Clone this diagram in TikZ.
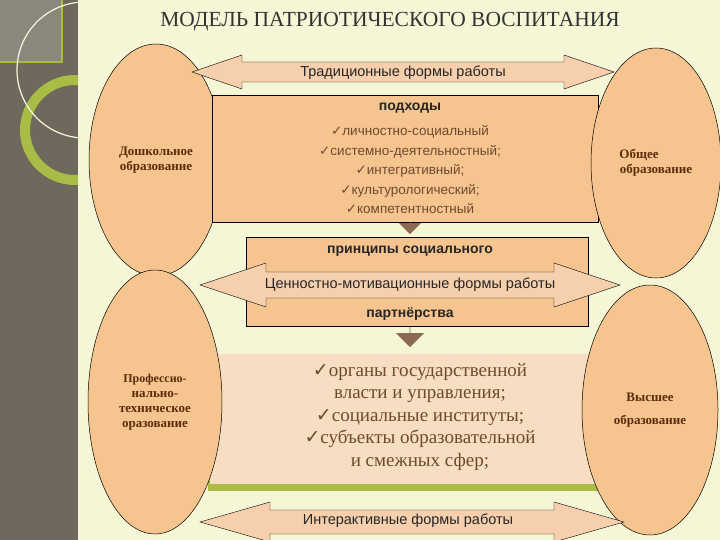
\documentclass[tikz,border=0pt]{standalone}
\usepackage{fontspec}
\setmainfont{Liberation Serif}
\setsansfont{Liberation Sans}
\newfontfamily\djfont{DejaVu Sans}
\usetikzlibrary{shapes.arrows,shapes.geometric}
\definecolor{bg}{HTML}{F4F6D6}
\definecolor{strip}{HTML}{6E695C}
\definecolor{peach}{HTML}{F6C58F}
\definecolor{lpeach}{HTML}{F6CFAC}
\definecolor{pale}{HTML}{F7DDC2}
\definecolor{ring}{HTML}{A9BC45}
\definecolor{dbrown}{HTML}{5A2C0A}
\definecolor{gbrown}{HTML}{6E4A30}
\definecolor{ar}{HTML}{8A6A50}
\newcommand{\ck}{{\djfont\char"2713}}
% #1 x1, #2 x2, #3 yc, #4 shaft half, #5 head half, #6 head length
\newcommand{\dblarr}[6]{\filldraw[dblarrow] (#1,#3) -- (#1+#6,#3-#5) -- (#1+#6,#3-#4) -- (#2-#6,#3-#4) -- (#2-#6,#3-#5) -- (#2,#3) -- (#2-#6,#3+#5) -- (#2-#6,#3+#4) -- (#1+#6,#3+#4) -- (#1+#6,#3+#5) -- cycle;}
\tikzset{
 ell/.style={ellipse,draw=black,line width=0.5pt,fill=peach,text=dbrown,font=\bfseries\fontsize{13}{15}\selectfont,align=center,inner sep=0pt},
 box/.style={draw=black,line width=0.4pt,fill=peach},
 dblarrow/.style={draw=black,line width=0.4pt,fill=lpeach},
 lbl/.style={font=\sffamily\fontsize{14.5}{16}\selectfont,text=black!85},
 ttl/.style={font=\sffamily\bfseries\fontsize{14}{16}\selectfont,text=black!85},
}
\begin{document}
\begin{tikzpicture}[x=1pt,y=-1pt]
\fill[bg] (0,0) rectangle (720,540);
\useasboundingbox (0,0) rectangle (720,540);
% left decoration
\fill[strip] (0,0) rectangle (78,540);
\fill[strip!80!white] (0,0) rectangle (62,62);
\draw[ring,line width=2pt] (0,62) -- (62,62) -- (62,0);
\begin{scope}
\clip (0,0) rectangle (78,540);
\draw[ring,line width=10pt] (75,130) circle (50);
\draw[bg!90!white,line width=1.2pt] (85,70) circle (68);
\end{scope}
% title
\node (title) at (390,22) {\fontsize{21.5}{24}\selectfont\color{black!80}МОДЕЛЬ ПАТРИОТИЧЕСКОГО ВОСПИТАНИЯ};
\node[ell,minimum width=134,minimum height=232] (e1) at (156,160) {Дошкольное\\образование};
% boxes
\node[box,minimum width=386,minimum height=127,anchor=north west] (b1) at (212,95) {};
\node[ttl] (t1) at (410,108) {подходы};
\node[font=\sffamily\fontsize{13.5}{19.5}\selectfont,text=gbrown,align=center] (l1) at (410,170) {\ck личностно-социальный\\ \ck системно-деятельностный;\\ \ck интегративный;\\ \ck культурологический;\\ \ck компетентностный};
\node[box,minimum width=342,minimum height=89,anchor=north west] (b2) at (246,237) {};
\node[ttl] (t2) at (410,251) {принципы социального};
\node[ttl] (t3) at (410,314) {партнёрства};
\fill[ring] (208,358) rectangle (612,491);
\node[fill=pale,minimum width=396,minimum height=130,anchor=north west,inner sep=0] (b3) at (210,354) {};
\node[font=\fontsize{19}{22.5}\selectfont,text=gbrown,align=center] (l3) at (420,417) {\ck органы государственной\\ власти и управления;\\ \ck социальные институты;\\ \ck субъекты образовательной\\ и смежных сфер;};
% small arrows
\node[single arrow,shape border rotate=270,fill=ar,minimum height=12,minimum width=22,single arrow head extend=6,inner sep=0] (a1) at (410,228) {};
\node[single arrow,shape border rotate=270,fill=ar,minimum height=20,minimum width=28,single arrow head extend=8,inner sep=0] (a2) at (410,337) {};
% ellipses
\node[ell,minimum width=130,minimum height=230] (e2) at (656,163) {\hspace*{-4pt}Общее\hspace*{30pt}\\образование};
\node[ell,minimum width=134,minimum height=264] (e3) at (155,402) {\fontsize{12}{16}\selectfont Профессио-\\нально-\\техническое\\оразование};
\node[ell,minimum width=136,minimum height=250] (e4) at (650,410) {Высшее\\[8pt]образование};
% double arrows
\dblarr{192}{614}{72}{10}{17}{50}
\node[lbl] (dt1) at (403,73) {Традиционные формы работы};
\dblarr{200}{620}{285}{13}{22}{66}
\node[lbl] (dt2) at (410,285) {Ценностно-мотивационные формы работы};
\dblarr{200}{624}{522}{12}{20}{70}
\node[lbl] (dt3) at (408,521) {Интерактивные формы работы};
\end{tikzpicture}
\end{document}
